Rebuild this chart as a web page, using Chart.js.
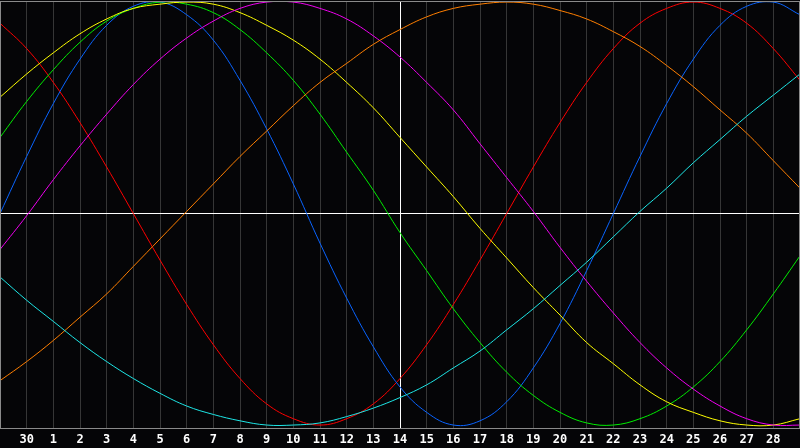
<!DOCTYPE html>
<html>
<head>
<meta charset="UTF-8" />
<title>Biorhythm</title>
<script src="https://cdn.jsdelivr.net/npm/chart.js"></script>
<style>
  html, body { margin: 0; padding: 0; background: #050507; overflow: hidden; }
  canvas { display: block; }
</style>
</head>
<body>
<canvas id="grafico" width="800" height="448"></canvas>
<script>
  // day labels under the grid lines (first and last are not shown)
  const days = ['29','30','1','2','3','4','5','6','7','8','9','10','11','12','13','14',
                '15','16','17','18','19','20','21','22','23','24','25','26','27','28','29'];

  // curve values, one per day (-1 .. 1)
  const red = [0.90,0.78,0.62,0.43,0.22,0.00,-0.22,-0.43,-0.62,-0.78,-0.90,-0.97,-1.00,-0.97,-0.90,-0.78,
               -0.62,-0.43,-0.22,0.00,0.22,0.43,0.62,0.78,0.90,0.97,1.00,0.97,0.90,0.78,0.63];
  const blue = [0.00,0.27,0.52,0.73,0.89,0.98,1.00,0.94,0.82,0.63,0.40,0.14,-0.14,-0.40,-0.63,-0.82,
                -0.94,-1.00,-0.98,-0.89,-0.73,-0.52,-0.27,0.00,0.27,0.52,0.73,0.89,0.98,1.00,0.94];
  const green = [0.36,0.53,0.68,0.81,0.91,0.97,1.00,0.99,0.95,0.87,0.76,0.63,0.47,0.29,0.11,-0.09,
                 -0.27,-0.45,-0.61,-0.75,-0.86,-0.94,-0.99,-1.00,-0.97,-0.91,-0.82,-0.70,-0.55,-0.38,-0.20];
  const yellow = [0.55,0.66,0.76,0.85,0.92,0.97,0.99,1.00,0.99,0.95,0.89,0.82,0.73,0.62,0.50,0.36,
                  0.22,0.08,-0.07,-0.21,-0.35,-0.48,-0.61,-0.71,-0.81,-0.89,-0.94,-0.98,-1.00,-1.00,-0.97];
  const magenta = [-0.17,-0.01,0.16,0.32,0.47,0.61,0.73,0.83,0.91,0.97,1.00,1.00,0.97,0.92,0.84,0.74,
                   0.62,0.49,0.33,0.17,0.01,-0.16,-0.32,-0.47,-0.61,-0.73,-0.83,-0.91,-0.97,-1.00,-1.00];
  const orange = [-0.79,-0.70,-0.60,-0.49,-0.38,-0.25,-0.12,0.01,0.14,0.27,0.39,0.51,0.62,0.71,0.80,0.87,
                  0.93,0.97,0.99,1.00,0.99,0.96,0.92,0.86,0.79,0.70,0.60,0.49,0.38,0.25,0.12];
  const cyan = [-0.30,-0.41,-0.51,-0.61,-0.70,-0.78,-0.85,-0.91,-0.95,-0.98,-1.00,-1.00,-0.99,-0.96,-0.92,-0.87,
                -0.81,-0.73,-0.65,-0.55,-0.45,-0.34,-0.23,-0.11,0.01,0.12,0.24,0.35,0.46,0.56,0.66];

  const today = 15;

  function linha(data, cor) {
    return {
      data: data,
      borderColor: cor,
      borderWidth: 1,
      pointRadius: 0,
      pointHoverRadius: 0,
      fill: false,
      tension: 0.4
    };
  }

  // frame around the plot area
  const moldura = {
    id: 'moldura',
    afterDraw(chart) {
      const a = chart.chartArea;
      const ctx = chart.ctx;
      ctx.save();
      ctx.strokeStyle = '#8a8a8a';
      ctx.lineWidth = 1;
      ctx.strokeRect(a.left + 0.5, a.top + 0.5, a.right - a.left - 1, a.bottom - a.top);
      ctx.restore();
    }
  };

  const fundo = {
    id: 'fundo',
    beforeDraw(chart) {
      const ctx = chart.ctx;
      ctx.save();
      ctx.fillStyle = '#050507';
      ctx.fillRect(0, 0, chart.width, chart.height);
      ctx.restore();
    }
  };

  new Chart(document.getElementById('grafico'), {
    type: 'line',
    data: {
      labels: days,
      datasets: [
        linha(cyan, '#1ee6e6'),
        linha(orange, '#ff7f00'),
        linha(magenta, '#f000f0'),
        linha(yellow, '#ffff00'),
        linha(green, '#00ee00'),
        linha(blue, '#0a64ff'),
        linha(red, '#ff0000')
      ]
    },
    options: {
      responsive: false,
      animation: false,
      devicePixelRatio: 1,
      layout: { autoPadding: false, padding: { top: 1, left: 0, right: 0, bottom: 0 } },
      plugins: { legend: { display: false }, tooltip: { enabled: false } },
      scales: {
        x: {
          offset: false,
          afterFit: s => { s.paddingLeft = 0; s.paddingRight = 0; s.height = 20; },
          grid: {
            drawTicks: false,
            color: ctx => ctx.index === today ? '#ffffff' : '#363636',
            lineWidth: 1
          },
          border: { display: false },
          ticks: {
            autoSkip: false,
            maxRotation: 0,
            padding: 5,
            color: '#ffffff',
            font: { family: 'DejaVu Sans Mono', size: 12, weight: 'bold' },
            callback: (v, i) => (i === 0 || i === days.length - 1) ? '' : days[i]
          }
        },
        y: {
          display: true,
          min: -1.014,
          max: 1.005,
          afterFit: s => { s.paddingTop = 0; s.paddingBottom = 0; s.width = 0; },
          afterBuildTicks: s => { s.ticks = [{ value: 0 }]; },
          grid: { drawTicks: false, color: '#ffffff', lineWidth: 1 },
          border: { display: false },
          ticks: { display: false }
        }
      }
    },
    plugins: [fundo, moldura]
  });
</script>
</body>
</html>
